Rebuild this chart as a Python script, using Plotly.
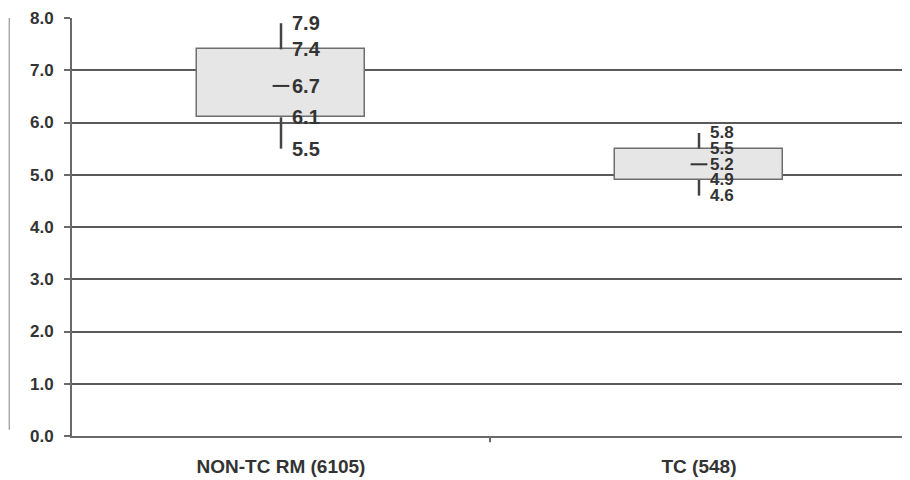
import plotly.graph_objects as go

categories = ["NON-TC RM (6105)", "TC (548)"]
whisker_low = [5.5, 4.6]
q1 = [6.1, 4.9]
median = [6.7, 5.2]
q3 = [7.4, 5.5]
whisker_high = [7.9, 5.8]
y_ticks = [0, 1, 2, 3, 4, 5, 6, 7, 8]
y_tick_labels = ["0.0", "1.0", "2.0", "3.0", "4.0", "5.0", "6.0", "7.0", "8.0"]

xs = list(range(len(categories)))
FONT = "Liberation Sans, Arial, sans-serif"

fig = go.Figure()

# boxes as floating bars
fig.add_trace(go.Bar(
    x=xs, y=[b - a for a, b in zip(q1, q3)], base=q1, width=0.4,
    marker=dict(color="#e6e6e6", line=dict(color="#6e6e6e", width=1.5)),
    hoverinfo="skip", showlegend=False,
))

# whiskers
for i in xs:
    fig.add_trace(go.Scatter(
        x=[i, i], y=[q3[i], whisker_high[i]], mode="lines",
        line=dict(color="#444444", width=2.5), showlegend=False, hoverinfo="skip"))
    fig.add_trace(go.Scatter(
        x=[i, i], y=[whisker_low[i], q1[i]], mode="lines",
        line=dict(color="#444444", width=2.5), showlegend=False, hoverinfo="skip"))

# median dash
fig.add_trace(go.Scatter(
    x=xs, y=median, mode="markers",
    marker=dict(symbol="line-ew", size=12, line=dict(color="#333333", width=2)),
    showlegend=False, hoverinfo="skip"))

# value labels
annotations = []
for i in xs:
    size = 20 if i == 0 else 17
    for v in [whisker_high[i], q3[i], median[i], q1[i], whisker_low[i]]:
        annotations.append(dict(
            x=i, y=v, xref="x", yref="y", text=f"{v:.1f}", showarrow=False,
            xanchor="left", yanchor="middle", xshift=9,
            font=dict(family=FONT, size=size, color="#333333", weight="bold"),
        ))

fig.update_layout(
    width=902, height=472,
    margin=dict(l=64, r=2, t=10, b=44, autoexpand=False),
    paper_bgcolor="white", plot_bgcolor="white",
    font=dict(family=FONT, color="#333333"),
    annotations=annotations,
    bargap=0,
    shapes=[dict(type="line", xref="paper", yref="paper", x0=-0.075, x1=-0.075,
                 y0=0.015, y1=1.0, line=dict(color="#aaaaaa", width=1.5))],
)

fig.update_yaxes(
    range=[0, 8], tickvals=y_ticks, ticktext=y_tick_labels,
    showgrid=True, gridcolor="#5a5a5a", gridwidth=2,
    showline=True, linecolor="#6a6a6a", linewidth=2,
    ticks="outside", ticklen=6, tickcolor="#6a6a6a", tickwidth=2,
    tickfont=dict(family=FONT, size=17, color="#333333", weight="bold"),
    zeroline=False, ticklabelstandoff=7, automargin=False,
)
fig.update_xaxes(
    range=[-0.5, 1.5], tickvals=xs, ticktext=categories,
    showgrid=False, showline=True, linecolor="#6a6a6a", linewidth=2,
    ticks="", tickfont=dict(family=FONT, size=19, color="#333333", weight="bold"),
    ticklabelstandoff=12, zeroline=False, automargin=False,
)
# category boundary tick
fig.add_shape(type="line", xref="x", yref="paper", x0=0.5, x1=0.5, y0=0, y1=-0.015,
              line=dict(color="#6a6a6a", width=2))

fig.write_html("out.html")
